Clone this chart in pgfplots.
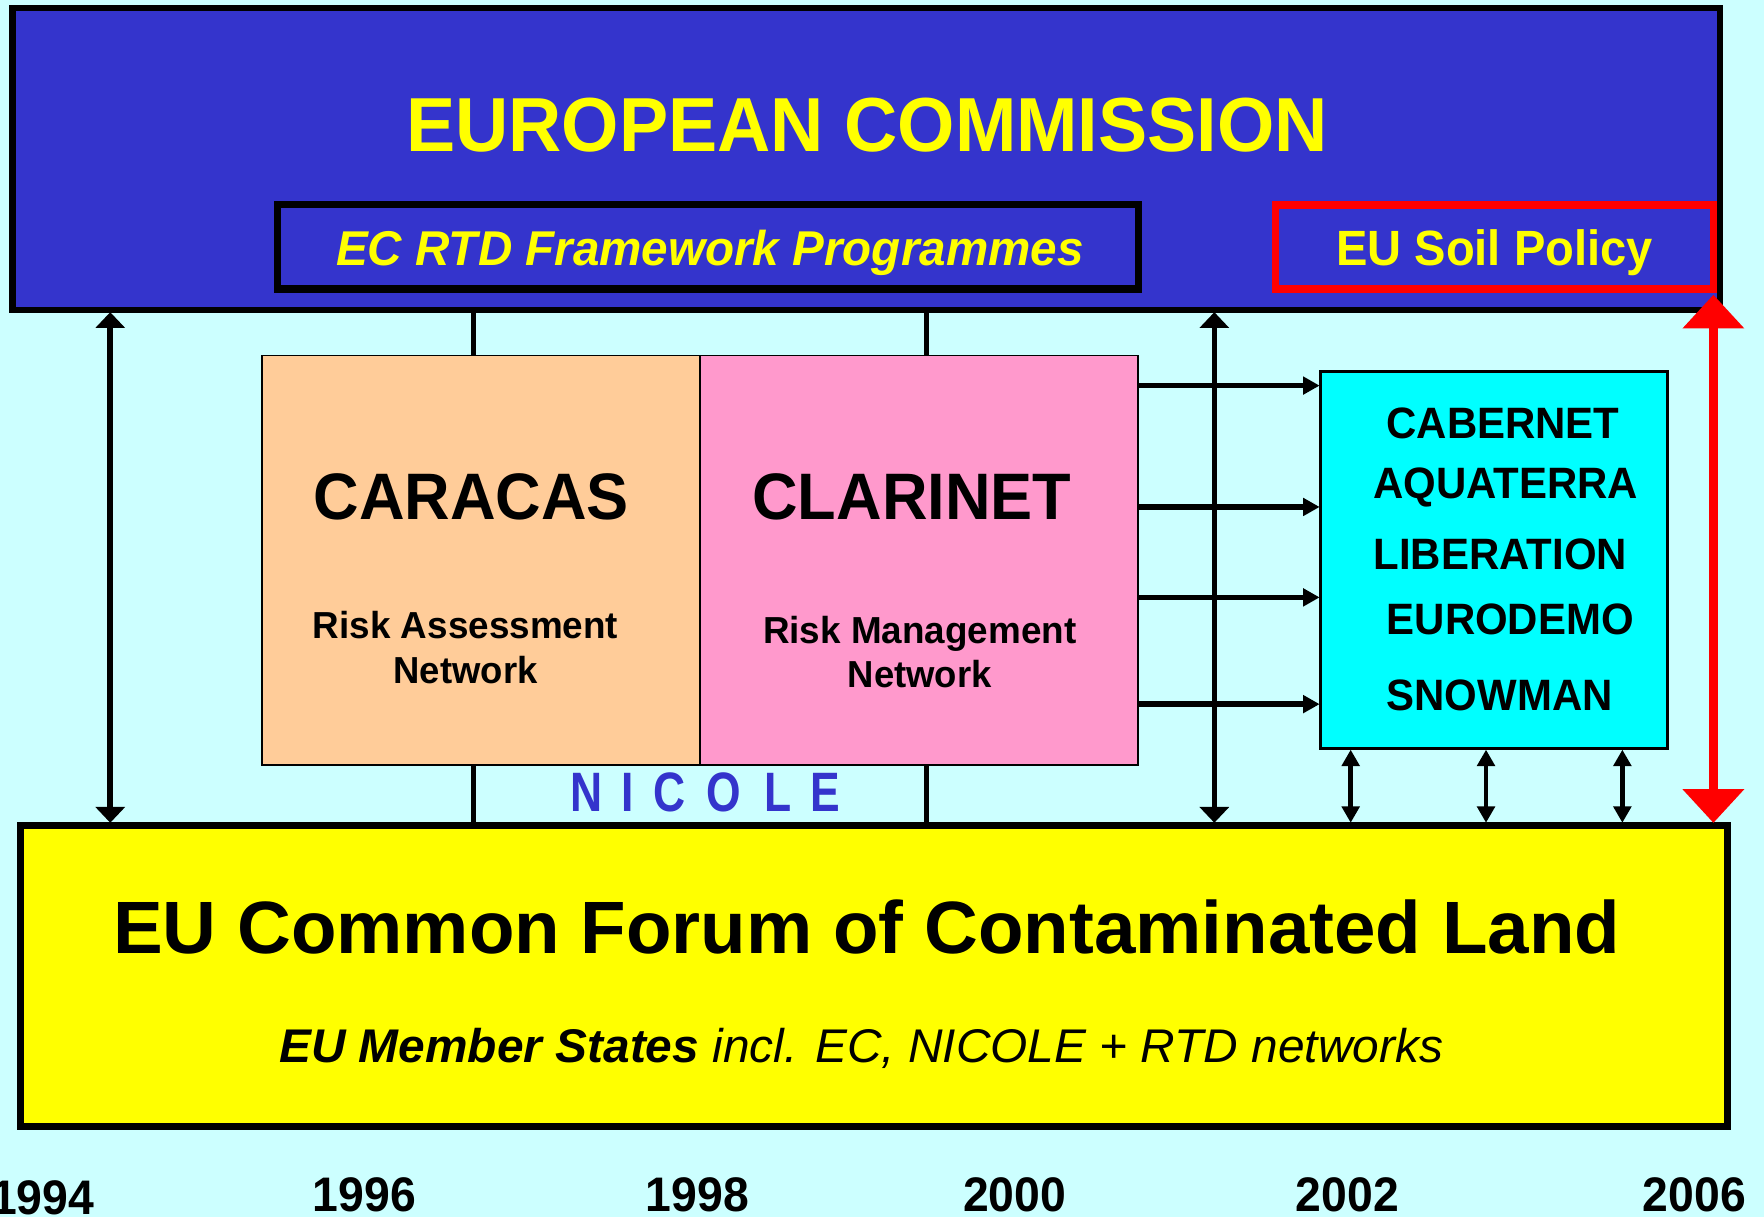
\documentclass[border=0pt]{standalone}
\usepackage{pgfplots}
\pgfplotsset{compat=1.18}
\usepackage{graphicx}
\usepackage{fontspec}
\setmainfont{Liberation Sans}
\usetikzlibrary{arrows.meta}
\definecolor{bgcyan}{HTML}{CCFFFF}
\definecolor{ecblue}{HTML}{3434CC}
\definecolor{ecyellow}{HTML}{FFFF00}
\definecolor{peach}{HTML}{FFCC99}
\definecolor{pinkc}{HTML}{FF99CC}
\definecolor{cyanb}{HTML}{00FFFF}
\definecolor{redc}{HTML}{FF0000}
\begin{document}
\begin{tikzpicture}
\useasboundingbox (0,0) rectangle (17.64cm,12.17cm);
\clip (0,0) rectangle (17.64cm,12.17cm);
\begin{axis}[
  at={(0,0)}, anchor=south west,
  scale only axis, width=17.64cm, height=12.17cm,
  xmin=0, xmax=1568, ymin=0, ymax=1082, y dir=reverse,
  enlargelimits=false, hide axis, no markers, clip=false,
]
% background
\addplot[fill=bgcyan, draw=none] coordinates {(0,0) (1568,0) (1568,1082) (0,1082)} -- cycle;
% European Commission box
\addplot[fill=ecblue, draw=black, line width=1.9pt, line join=miter] coordinates {(11,7) (1529,7) (1529,275.5) (11,275.5)} -- cycle;
\addplot[draw=black, line width=2.15pt, line join=miter] coordinates {(246.5,181.8) (1012,181.8) (1012,256.8) (246.5,256.8)} -- cycle;
\addplot[draw=redc, line width=2.2pt, line join=miter] coordinates {(1133.8,182.4) (1523,182.4) (1523,257) (1133.8,257)} -- cycle;
% connectors
\addplot[black, line width=1.55pt] coordinates {(421,277) (421,316)};
\addplot[black, line width=1.55pt] coordinates {(823.3,277) (823.3,316)};
\addplot[black, line width=1.55pt] coordinates {(421,680) (421,732)};
\addplot[black, line width=1.55pt] coordinates {(823.3,680) (823.3,732)};
% CARACAS / CLARINET
\addplot[fill=peach, draw=black, line width=0.5pt] coordinates {(232.7,316) (622.5,316) (622.5,680) (232.7,680)} -- cycle;
\addplot[fill=pinkc, draw=black, line width=0.5pt] coordinates {(622.5,316) (1011.5,316) (1011.5,680) (622.5,680)} -- cycle;
% cyan box
\addplot[fill=cyanb, draw=black, line width=0.9pt] coordinates {(1174,330) (1482,330) (1482,665.8) (1174,665.8)} -- cycle;
% yellow box
\addplot[fill=ecyellow, draw=black, line width=1.9pt, line join=miter] coordinates {(18.4,733.8) (1535.5,733.8) (1535.5,1001.5) (18.4,1001.5)} -- cycle;
% arrows
\addplot[black, line width=1.6pt, {Triangle[length=4.5pt,width=8.2pt]}-{Triangle[length=4.5pt,width=8.2pt]}] coordinates {(98,277.5) (98,731.5)};
\addplot[black, line width=1.6pt, {Triangle[length=4.5pt,width=8.2pt]}-{Triangle[length=4.5pt,width=8.2pt]}] coordinates {(1079.4,277.5) (1079.4,731.5)};
\addplot[black, line width=1.6pt, -{Triangle[length=4.7pt,width=4.9pt]}] coordinates {(1012,342.8) (1173,342.8)};
\addplot[black, line width=1.6pt, -{Triangle[length=4.7pt,width=4.9pt]}] coordinates {(1012,450.7) (1173,450.7)};
\addplot[black, line width=1.6pt, -{Triangle[length=4.7pt,width=4.9pt]}] coordinates {(1012,531.1) (1173,531.1)};
\addplot[black, line width=1.6pt, -{Triangle[length=4.7pt,width=4.9pt]}] coordinates {(1012,626) (1173,626)};
\addplot[black, line width=1.3pt, {Triangle[length=4.7pt,width=5pt]}-{Triangle[length=4.7pt,width=5pt]}] coordinates {(1200.6,666.5) (1200.6,731.5)};
\addplot[black, line width=1.3pt, {Triangle[length=4.7pt,width=5pt]}-{Triangle[length=4.7pt,width=5pt]}] coordinates {(1320.9,666.5) (1320.9,731.5)};
\addplot[black, line width=1.3pt, {Triangle[length=4.7pt,width=5pt]}-{Triangle[length=4.7pt,width=5pt]}] coordinates {(1442.1,666.5) (1442.1,731.5)};
\addplot[redc, line width=2.4pt, {Triangle[length=9.6pt,width=17pt]}-{Triangle[length=9.6pt,width=17pt]}] coordinates {(1523,262) (1523,731.6)};
% texts
\node[anchor=base, inner sep=0, text=ecyellow, font=\fontsize{21.8pt}{26pt}\selectfont\bfseries] at (axis cs:770.7,134.8) {\scalebox{0.962}[1]{EUROPEAN COMMISSION}};
\node[anchor=base, inner sep=0, text=ecyellow, font=\fontsize{13.9pt}{16pt}\selectfont\bfseries\itshape] at (axis cs:631,235.6) {\scalebox{0.974}[1]{EC RTD Framework Programmes}};
\node[anchor=base, inner sep=0, text=ecyellow, font=\fontsize{14.1pt}{16pt}\selectfont\bfseries] at (axis cs:1328.4,236) {\scalebox{0.95}[1]{EU Soil Policy}};
\node[anchor=base, inner sep=0, font=\fontsize{18.7pt}{22pt}\selectfont\bfseries] at (axis cs:419,461.5) {\scalebox{0.96}[1]{CARACAS}};
\node[anchor=base, inner sep=0, font=\fontsize{18.7pt}{22pt}\selectfont\bfseries] at (axis cs:810.5,461.5) {\scalebox{0.96}[1]{CLARINET}};
\node[anchor=base, inner sep=0, font=\fontsize{10.7pt}{13pt}\selectfont\bfseries] at (axis cs:413.8,568) {\scalebox{0.98}[1]{Risk Assessment}};
\node[anchor=base, inner sep=0, font=\fontsize{10.7pt}{13pt}\selectfont\bfseries] at (axis cs:413.8,608) {\scalebox{0.97}[1]{Network}};
\node[anchor=base, inner sep=0, font=\fontsize{10.7pt}{13pt}\selectfont\bfseries] at (axis cs:817.5,572.5) {\scalebox{0.98}[1]{Risk Management}};
\node[anchor=base, inner sep=0, font=\fontsize{10.7pt}{13pt}\selectfont\bfseries] at (axis cs:817.5,611) {\scalebox{0.97}[1]{Network}};
% NICOLE
\node[anchor=base, inner sep=0, text=ecblue, font=\fontsize{15.8pt}{18pt}\selectfont\bfseries] at (axis cs:521.8,721.5) {\scalebox{0.8}[1]{N}};
\node[anchor=base, inner sep=0, text=ecblue, font=\fontsize{15.8pt}{18pt}\selectfont\bfseries] at (axis cs:557.8,721.5) {\scalebox{0.8}[1]{I}};
\node[anchor=base, inner sep=0, text=ecblue, font=\fontsize{15.8pt}{18pt}\selectfont\bfseries] at (axis cs:595.5,721.5) {\scalebox{0.8}[1]{C}};
\node[anchor=base, inner sep=0, text=ecblue, font=\fontsize{15.8pt}{18pt}\selectfont\bfseries] at (axis cs:643.7,721.5) {\scalebox{0.8}[1]{O}};
\node[anchor=base, inner sep=0, text=ecblue, font=\fontsize{15.8pt}{18pt}\selectfont\bfseries] at (axis cs:691.9,721.5) {\scalebox{0.8}[1]{L}};
\node[anchor=base, inner sep=0, text=ecblue, font=\fontsize{15.8pt}{18pt}\selectfont\bfseries] at (axis cs:734,721.5) {\scalebox{0.8}[1]{E}};
% cyan box texts
\node[anchor=base, inner sep=0, font=\fontsize{12.5pt}{15pt}\selectfont\bfseries] at (axis cs:1336,390) {\scalebox{0.955}[1]{CABERNET}};
\node[anchor=base, inner sep=0, font=\fontsize{12.5pt}{15pt}\selectfont\bfseries] at (axis cs:1338.5,442.8) {\scalebox{0.955}[1]{AQUATERRA}};
\node[anchor=base, inner sep=0, font=\fontsize{12.5pt}{15pt}\selectfont\bfseries] at (axis cs:1333.6,506) {\scalebox{0.955}[1]{LIBERATION}};
\node[anchor=base, inner sep=0, font=\fontsize{12.5pt}{15pt}\selectfont\bfseries] at (axis cs:1342.5,564.5) {\scalebox{0.955}[1]{EURODEMO}};
\node[anchor=base, inner sep=0, font=\fontsize{12.5pt}{15pt}\selectfont\bfseries] at (axis cs:1333,631.6) {\scalebox{0.955}[1]{SNOWMAN}};
% yellow box texts
\node[anchor=base, inner sep=0, font=\fontsize{21.1pt}{25pt}\selectfont\bfseries] at (axis cs:770.3,847.4) {\scalebox{1.005}[1]{EU Common Forum of Contaminated Land}};
\node[anchor=base, inner sep=0, font=\fontsize{13.45pt}{16pt}\selectfont\itshape] at (axis cs:765.5,945) {\scalebox{1.012}[1]{\textbf{EU Member States} incl. EC, NICOLE + RTD networks}};
% years
\node[anchor=base, inner sep=0, font=\fontsize{13.8pt}{16pt}\selectfont\bfseries] at (axis cs:38,1080) {\scalebox{0.955}[1]{1994}};
\node[anchor=base, inner sep=0, font=\fontsize{13.8pt}{16pt}\selectfont\bfseries] at (axis cs:324,1077) {\scalebox{0.955}[1]{1996}};
\node[anchor=base, inner sep=0, font=\fontsize{13.8pt}{16pt}\selectfont\bfseries] at (axis cs:620,1077) {\scalebox{0.955}[1]{1998}};
\node[anchor=base, inner sep=0, font=\fontsize{13.8pt}{16pt}\selectfont\bfseries] at (axis cs:902,1077) {\scalebox{0.955}[1]{2000}};
\node[anchor=base, inner sep=0, font=\fontsize{13.8pt}{16pt}\selectfont\bfseries] at (axis cs:1197.7,1077) {\scalebox{0.955}[1]{2002}};
\node[anchor=base, inner sep=0, font=\fontsize{13.8pt}{16pt}\selectfont\bfseries] at (axis cs:1506,1077) {\scalebox{0.955}[1]{2006}};
\end{axis}
\end{tikzpicture}
\end{document}
